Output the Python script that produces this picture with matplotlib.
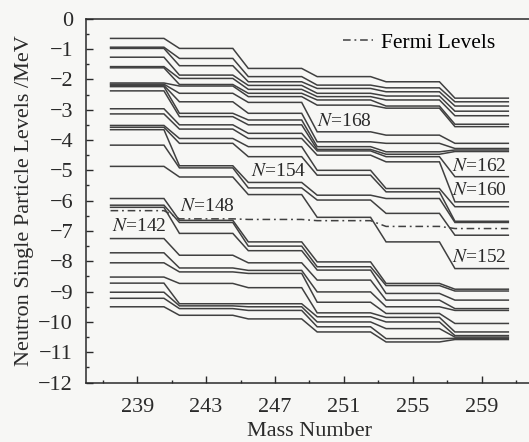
import numpy as np
import matplotlib
matplotlib.use("Agg")
import matplotlib.pyplot as plt
from matplotlib.ticker import FixedLocator, MultipleLocator

plt.rcParams['font.family'] = ['Liberation Serif', 'DejaVu Serif']
plt.rcParams['mathtext.fontset'] = 'stix'

# mass numbers of the isotopes (one column of levels each)
mass = np.array([239, 243, 247, 251, 255, 259])

# neutron single particle levels (MeV), one row per level, columns follow `mass`
levels = [
    [-0.65, -0.98, -1.64, -1.91, -2.08, -2.62],
    [-0.94, -1.31, -1.91, -2.19, -2.28, -2.74],
    [-0.98, -1.55, -2.08, -2.30, -2.41, -2.88],
    [-1.27, -1.86, -2.20, -2.46, -2.55, -3.05],
    [-1.58, -1.97, -2.33, -2.57, -2.68, -3.20],
    [-1.62, -2.17, -2.46, -2.68, -2.88, -3.48],
    [-2.12, -2.22, -2.57, -2.85, -2.95, -3.56],
    [-2.16, -2.46, -2.76, -3.73, -3.84, -4.11],
    [-2.20, -2.74, -3.12, -4.06, -4.11, -4.28],
    [-2.24, -3.12, -3.34, -4.22, -4.39, -4.33],
    [-2.38, -3.23, -3.50, -4.31, -4.47, -4.38],
    [-2.97, -3.50, -3.78, -4.36, -4.55, -5.21],
    [-3.14, -3.64, -3.95, -4.50, -4.72, -6.04],
    [-3.52, -3.95, -4.22, -5.00, -5.60, -6.20],
    [-3.58, -4.11, -4.55, -5.16, -5.71, -6.68],
    [-3.66, -4.85, -5.40, -5.82, -5.93, -6.72],
    [-4.17, -4.92, -5.58, -5.98, -6.42, -7.14],
    [-4.87, -5.22, -5.80, -6.55, -7.36, -8.24],
    [-5.93, -6.65, -7.36, -8.02, -8.73, -8.92],
    [-6.15, -6.72, -7.50, -8.18, -8.80, -8.98],
    [-6.22, -7.08, -7.65, -8.29, -9.06, -9.28],
    [-7.25, -7.80, -8.05, -8.62, -9.28, -9.56],
    [-7.72, -8.22, -8.30, -9.01, -9.50, -9.62],
    [-8.05, -8.35, -8.40, -9.35, -9.72, -10.05],
    [-8.52, -8.73, -8.87, -9.70, -9.85, -10.33],
    [-8.72, -9.40, -9.40, -9.83, -10.00, -10.45],
    [-9.02, -9.47, -9.50, -10.00, -10.22, -10.50],
    [-9.22, -9.56, -9.62, -10.16, -10.55, -10.54],
    [-9.50, -9.78, -9.90, -10.33, -10.66, -10.58],
]

fermi = [-6.33, -6.60, -6.62, -6.66, -6.85, -6.92]

# shell gap labels: (text, mass position, energy)
gap_labels = [
    ("142", 237.55, -6.85),
    ("148", 241.5, -6.2),
    ("154", 245.6, -5.05),
    ("168", 249.45, -3.4),
    ("162", 257.3, -4.86),
    ("160", 257.3, -5.66),
    ("152", 257.3, -7.88),
]

hw = 1.55  # half width of each level bar in mass units


def step_line(e):
    xs = np.column_stack([mass - hw, mass + hw]).ravel()
    ys = np.repeat(np.asarray(e), 2)
    return xs, ys


bg = '#f7f7f5'
ink = '#2a2a2a'
fig = plt.figure(figsize=(5.29, 4.42), dpi=100, facecolor=bg)
ax = fig.add_axes([0.1618, 0.1344, 0.8463, 0.8233], facecolor=bg)

for e in levels:
    xs, ys = step_line(e)
    ax.plot(xs, ys, color='#404040', lw=1.1, solid_joinstyle='miter')

xs, ys = step_line(fermi)
ax.plot(xs, ys, color='#404040', lw=1.1, dashes=(5, 2.5, 1.2, 2.5),
        label='Fermi Levels')

for txt, x, y in gap_labels:
    ax.text(x, y, r"$N$=" + txt, fontsize=14, va='center', ha='left',
            color=ink)

ax.set_xlim(236, 262)
ax.set_ylim(-12, 0)
ax.xaxis.set_major_locator(FixedLocator(mass))
ax.xaxis.set_minor_locator(FixedLocator(np.arange(237, 262, 4)))
ax.yaxis.set_major_locator(MultipleLocator(1))
ax.yaxis.set_minor_locator(MultipleLocator(0.5))
ax.tick_params(which='both', direction='in', colors=ink,
               labelsize=16, width=1.0)
ax.tick_params(which='major', length=5, pad=9)
ax.tick_params(axis='x', which='major', pad=11)
ax.tick_params(which='minor', length=2.5)
for s in ax.spines.values():
    s.set_color(ink)
    s.set_linewidth(1.1)

ax.set_xlabel('Mass Number', fontsize=16, color=ink, labelpad=4)
ax.set_ylabel('Neutron Single Particle Levels /MeV', fontsize=16,
              color=ink, labelpad=3)

ax.legend(loc='upper right', bbox_to_anchor=(0.935, 0.985), frameon=False,
          fontsize=15.5, handlelength=1.4, handletextpad=0.4,
          borderaxespad=0.0)

fig.savefig('out.png', dpi=100, facecolor=bg)
